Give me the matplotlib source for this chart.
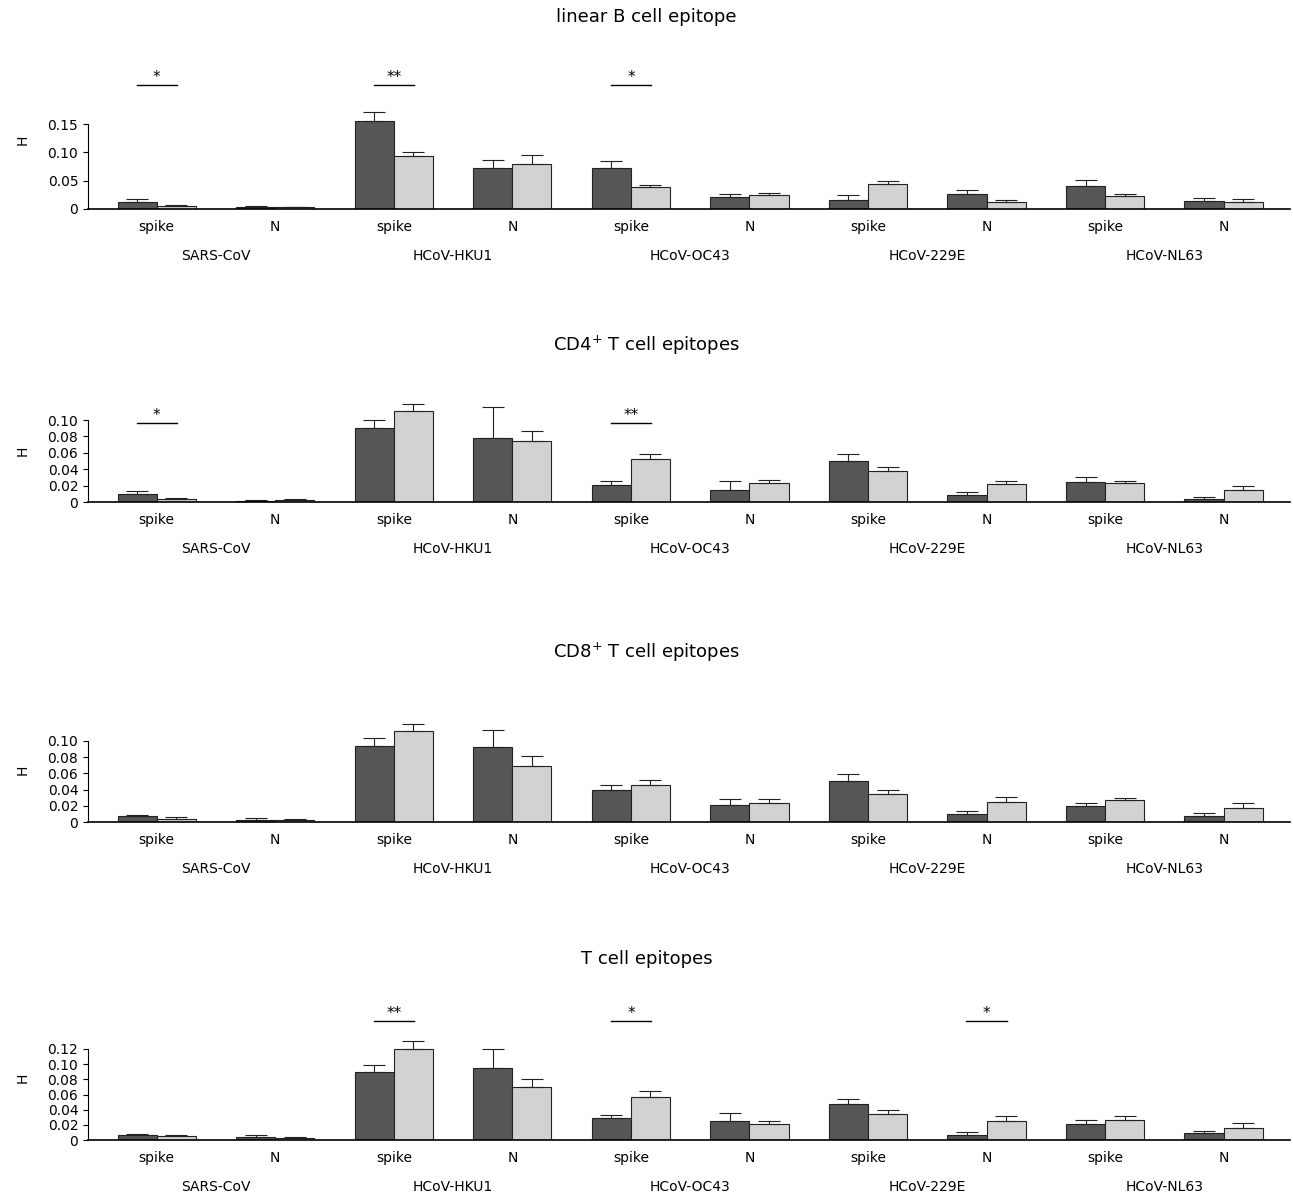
import numpy as np
import matplotlib.pyplot as plt
from matplotlib.transforms import blended_transform_factory

viruses = ['SARS-CoV', 'HCoV-HKU1', 'HCoV-OC43', 'HCoV-229E', 'HCoV-NL63']
proteins = ['spike', 'N'] * 5

titles = ['linear B cell epitope', 'CD4$^{+}$ T cell epitopes',
          'CD8$^{+}$ T cell epitopes', 'T cell epitopes']

# mean values (dark / light) and top of error bar
b_dark = [0.012, 0.004, 0.155, 0.073, 0.072, 0.022, 0.016, 0.027, 0.040, 0.015]
b_dark_top = [0.017, 0.005, 0.172, 0.087, 0.084, 0.027, 0.025, 0.033, 0.052, 0.020]
b_light = [0.005, 0.003, 0.093, 0.080, 0.039, 0.024, 0.045, 0.012, 0.023, 0.013]
b_light_top = [0.007, 0.004, 0.100, 0.096, 0.043, 0.029, 0.049, 0.016, 0.026, 0.018]

cd4_dark = [0.010, 0.001, 0.090, 0.078, 0.021, 0.015, 0.050, 0.008, 0.025, 0.004]
cd4_dark_top = [0.013, 0.002, 0.100, 0.116, 0.026, 0.026, 0.059, 0.012, 0.030, 0.006]
cd4_light = [0.004, 0.003, 0.111, 0.075, 0.053, 0.023, 0.038, 0.022, 0.023, 0.015]
cd4_light_top = [0.005, 0.004, 0.119, 0.086, 0.058, 0.027, 0.043, 0.026, 0.026, 0.020]

cd8_dark = [0.007, 0.003, 0.094, 0.092, 0.040, 0.021, 0.051, 0.010, 0.020, 0.008]
cd8_dark_top = [0.009, 0.005, 0.104, 0.114, 0.046, 0.028, 0.059, 0.014, 0.024, 0.011]
cd8_light = [0.004, 0.003, 0.112, 0.069, 0.046, 0.023, 0.035, 0.025, 0.027, 0.017]
cd8_light_top = [0.006, 0.004, 0.121, 0.081, 0.052, 0.028, 0.040, 0.031, 0.030, 0.024]

t_dark = [0.006, 0.004, 0.090, 0.095, 0.029, 0.025, 0.048, 0.007, 0.021, 0.009]
t_dark_top = [0.008, 0.007, 0.099, 0.120, 0.033, 0.035, 0.054, 0.010, 0.026, 0.012]
t_light = [0.005, 0.003, 0.120, 0.070, 0.057, 0.021, 0.034, 0.025, 0.026, 0.016]
t_light_top = [0.006, 0.004, 0.130, 0.081, 0.064, 0.025, 0.040, 0.031, 0.031, 0.022]

# significance marks: (category index, label, y)
b_sig = [(0, '*', 0.219), (2, '**', 0.219), (4, '*', 0.219)]
cd4_sig = [(0, '*', 0.096), (4, '**', 0.096)]
cd8_sig = []
t_sig = [(2, '**', 0.157), (4, '*', 0.157), (7, '*', 0.157)]

panels = [
    (b_dark, b_dark_top, b_light, b_light_top, b_sig, [0, 0.05, 0.10, 0.15], ['0', '0.05', '0.10', '0.15'], 209, 70, 28.3 / 0.05),
    (cd4_dark, cd4_dark_top, cd4_light, cd4_light_top, cd4_sig, [0, 0.02, 0.04, 0.06, 0.08, 0.10], None, 502, 400, 16.4 / 0.02),
    (cd8_dark, cd8_dark_top, cd8_light, cd8_light_top, cd8_sig, [0, 0.02, 0.04, 0.06, 0.08, 0.10], None, 822, 718, 81 / 0.10),
    (t_dark, t_dark_top, t_light, t_light_top, t_sig, [0, 0.02, 0.04, 0.06, 0.08, 0.10, 0.12], None, 1140, 1015, 91 / 0.12),
]
title_y = [17, 345, 652, 959]

W, H = 1293, 1194
fig = plt.figure(figsize=(W / 100, H / 100), dpi=100)
x = np.arange(10)
w = 0.33
dark_c, light_c = '#545658', '#d1d2d4'

for i, (d, dt, l, lt, sig, ticks, tlabels, bot, top, px_per_unit) in enumerate(panels):
    ax = fig.add_axes([88 / W, 1 - bot / H, (1290 - 88) / W, (bot - top) / H])
    ax.bar(x - w / 2, d, w, color=dark_c, edgecolor='#222222', linewidth=0.8)
    ax.bar(x + w / 2, l, w, color=light_c, edgecolor='#222222', linewidth=0.8)
    d = np.array(d); l = np.array(l)
    ax.errorbar(x - w / 2, d, yerr=[np.zeros(10), np.array(dt) - d], fmt='none',
                ecolor='#222222', elinewidth=0.8, capsize=8, capthick=0.8)
    ax.errorbar(x + w / 2, l, yerr=[np.zeros(10), np.array(lt) - l], fmt='none',
                ecolor='#222222', elinewidth=0.8, capsize=8, capthick=0.8)
    ax.set_xlim(-0.58, 9.56)
    ax.set_yticks(ticks)
    if tlabels is None:
        tlabels = ['0'] + ['%.2f' % t for t in ticks[1:]]
    ax.set_yticklabels(tlabels, fontsize=10)
    ax.set_ylim(0, (bot - top) / px_per_unit)
    ax.spines['top'].set_visible(False)
    ax.spines['right'].set_visible(False)
    ax.spines['left'].set_bounds(0, ticks[-1])
    ax.spines['bottom'].set_linewidth(1.2)
    ax.set_xticks(x)
    ax.set_xticklabels(proteins, fontsize=10)
    ax.tick_params(axis='x', length=0, pad=8)
    ax.set_ylabel('H', fontsize=10)
    ax.yaxis.set_label_coords(-58 / (1290 - 88), 0.5)
    tr = blended_transform_factory(ax.transData, ax.transAxes)
    for k, v in enumerate(viruses):
        ax.annotate(v, (2 * k + 0.5, 0), xycoords=tr, xytext=(0, -29),
                    textcoords='offset points', ha='center', va='top', fontsize=10)
    for c, lab, y in sig:
        ax.plot([c - 0.17, c + 0.17], [y, y], color='black', lw=1)
        ax.annotate(lab, (c, y), xytext=(0, 0), textcoords='offset points',
                    ha='center', va='bottom', fontsize=11)
    fig.text(0.5, 1 - title_y[i] / H, titles[i], ha='center', va='center', fontsize=13)

fig.savefig('out.png', dpi=100)
